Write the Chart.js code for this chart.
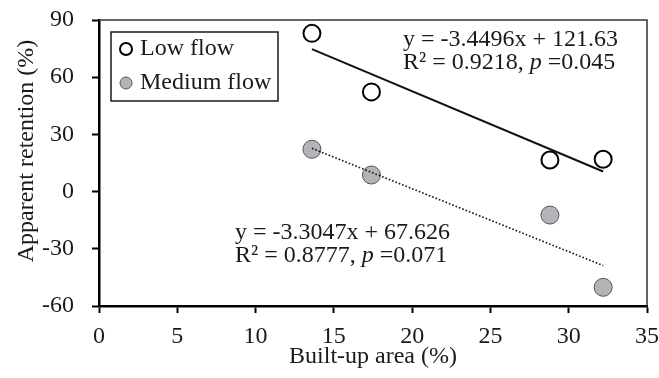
<!DOCTYPE html>
<html lang="en">
<head>
<meta charset="UTF-8">
<title>Apparent retention vs built-up area</title>
<script src="https://cdn.jsdelivr.net/npm/chart.js"></script>
<style>
    body { margin: 0; background: #fff; }
    canvas { display: block; }
</style>
</head>
<body>
<canvas id="chart" width="659" height="378"></canvas>
<script>
const builtUp    = [13.6, 17.4, 28.8, 32.2];
const lowFlow    = [83.0, 52.3, 16.6, 17.0];
const mediumFlow = [22.2, 8.7, -12.3, -50.2];

// linear fits: [slope, intercept]
const lowFit    = [-3.4496, 121.63];
const mediumFit = [-3.3047, 67.626];

const lowFitLabel    = ['y = -3.4496x + 121.63', 'R² = 0.9218, ', 'p', ' =0.045'];
const mediumFitLabel = ['y = -3.3047x + 67.626', 'R² = 0.8777, ', 'p', ' =0.071'];

const FONT = '"Liberation Serif", "Times New Roman", serif';
const SIZE = 24;
const INK = '#1a1a1a';
const GREY = '#b4b4b8';

function points(ys) {
    return builtUp.map((x, i) => ({x: x, y: ys[i]}));
}

function fitLine(fit) {
    const xs = [Math.min(...builtUp), Math.max(...builtUp)];
    return xs.map(x => ({x: x, y: fit[0] * x + fit[1]}));
}

function drawFitLabel(ctx, lines, x, y) {
    ctx.font = SIZE + 'px ' + FONT;
    ctx.fillText(lines[0], x, y);
    let cx = x;
    const y2 = y + 23;
    ctx.fillText(lines[1], cx, y2);
    cx += ctx.measureText(lines[1]).width;
    ctx.font = 'italic ' + SIZE + 'px ' + FONT;
    ctx.fillText(lines[2], cx, y2);
    cx += ctx.measureText(lines[2]).width;
    ctx.font = SIZE + 'px ' + FONT;
    ctx.fillText(lines[3], cx, y2);
}

// frame, legend box, y title and fit equations
const overlay = {
    id: 'overlay',
    afterDraw(chart) {
        const {ctx, chartArea: a} = chart;
        ctx.save();
        ctx.strokeStyle = '#333';
        ctx.lineWidth = 1.5;
        ctx.beginPath();
        ctx.moveTo(a.left, a.top);
        ctx.lineTo(a.right, a.top);
        ctx.lineTo(a.right, a.bottom);
        ctx.stroke();

        // legend
        const lx = a.left + 12, ly = a.top + 12;
        ctx.strokeStyle = INK;
        ctx.lineWidth = 1.5;
        ctx.strokeRect(lx, ly, 167, 69);
        const items = [
            {label: 'Low flow', fill: '#fff', stroke: '#000', width: 2},
            {label: 'Medium flow', fill: GREY, stroke: '#555', width: 1}
        ];
        ctx.font = SIZE + 'px ' + FONT;
        ctx.textBaseline = 'middle';
        ctx.fillStyle = INK;
        items.forEach((it, i) => {
            const cy = ly + 17 + i * 34;
            ctx.beginPath();
            ctx.arc(lx + 15, cy, 6, 0, Math.PI * 2);
            ctx.fillStyle = it.fill;
            ctx.fill();
            ctx.lineWidth = it.width;
            ctx.strokeStyle = it.stroke;
            ctx.stroke();
            ctx.fillStyle = INK;
            ctx.fillText(it.label, lx + 29, cy);
        });

        drawFitLabel(ctx, lowFitLabel, a.left + 304, a.top + 20);
        drawFitLabel(ctx, mediumFitLabel, a.left + 136, a.top + 213);

        // y axis title, sitting a little above the plot's middle
        ctx.save();
        ctx.translate(27, a.top + 131);
        ctx.rotate(-Math.PI / 2);
        ctx.textAlign = 'center';
        ctx.font = SIZE + 'px ' + FONT;
        ctx.fillText('Apparent retention (%)', 0, 0);
        ctx.restore();
        ctx.restore();
    }
};

new Chart(document.getElementById('chart'), {
    type: 'scatter',
    data: {
        datasets: [
            {
                label: 'Low flow fit',
                data: fitLine(lowFit),
                showLine: true,
                borderColor: '#111',
                borderWidth: 2,
                pointRadius: 0,
                order: 0
            },
            {
                label: 'Medium flow fit',
                data: fitLine(mediumFit),
                showLine: true,
                borderColor: '#111',
                borderWidth: 1.6,
                borderDash: [1.6, 2],
                pointRadius: 0,
                order: 0
            },
            {
                label: 'Low flow',
                data: points(lowFlow),
                backgroundColor: '#fff',
                borderColor: '#000',
                borderWidth: 2,
                pointRadius: 8.5,
                order: 1
            },
            {
                label: 'Medium flow',
                data: points(mediumFlow),
                backgroundColor: GREY,
                borderColor: '#555',
                borderWidth: 1,
                pointRadius: 9,
                order: 1
            }
        ]
    },
    options: {
        responsive: false,
        animation: false,
        layout: { padding: { top: 20, right: 12, bottom: 0, left: 0 } },
        plugins: {
            legend: { display: false },
            tooltip: { enabled: false }
        },
        scales: {
            x: {
                type: 'linear',
                min: 0,
                max: 35,
                ticks: {
                    stepSize: 5,
                    padding: 9,
                    color: INK,
                    font: { family: FONT, size: SIZE }
                },
                grid: { drawOnChartArea: false, tickLength: 7, tickColor: '#000', tickWidth: 2 },
                border: { color: '#000', width: 2.5 },
                title: {
                    display: true,
                    text: 'Built-up area (%)',
                    color: INK,
                    font: { family: FONT, size: SIZE },
                    padding: { top: 0, bottom: 7 }
                },
                afterFit(scale) {
                    scale.height = 72;
                    scale.paddingLeft = 0;
                    scale.paddingRight = 0;
                }
            },
            y: {
                min: -60,
                max: 90,
                ticks: {
                    stepSize: 30,
                    padding: 18,
                    color: INK,
                    font: { family: FONT, size: SIZE }
                },
                grid: { drawOnChartArea: false, tickLength: 7, tickColor: '#000', tickWidth: 2 },
                border: { color: '#000', width: 2.5 },
                title: { display: false },
                afterFit(scale) {
                    scale.width = 99;
                    scale.paddingTop = 0;
                    scale.paddingBottom = 0;
                }
            }
        }
    },
    plugins: [overlay]
});
</script>
</body>
</html>
